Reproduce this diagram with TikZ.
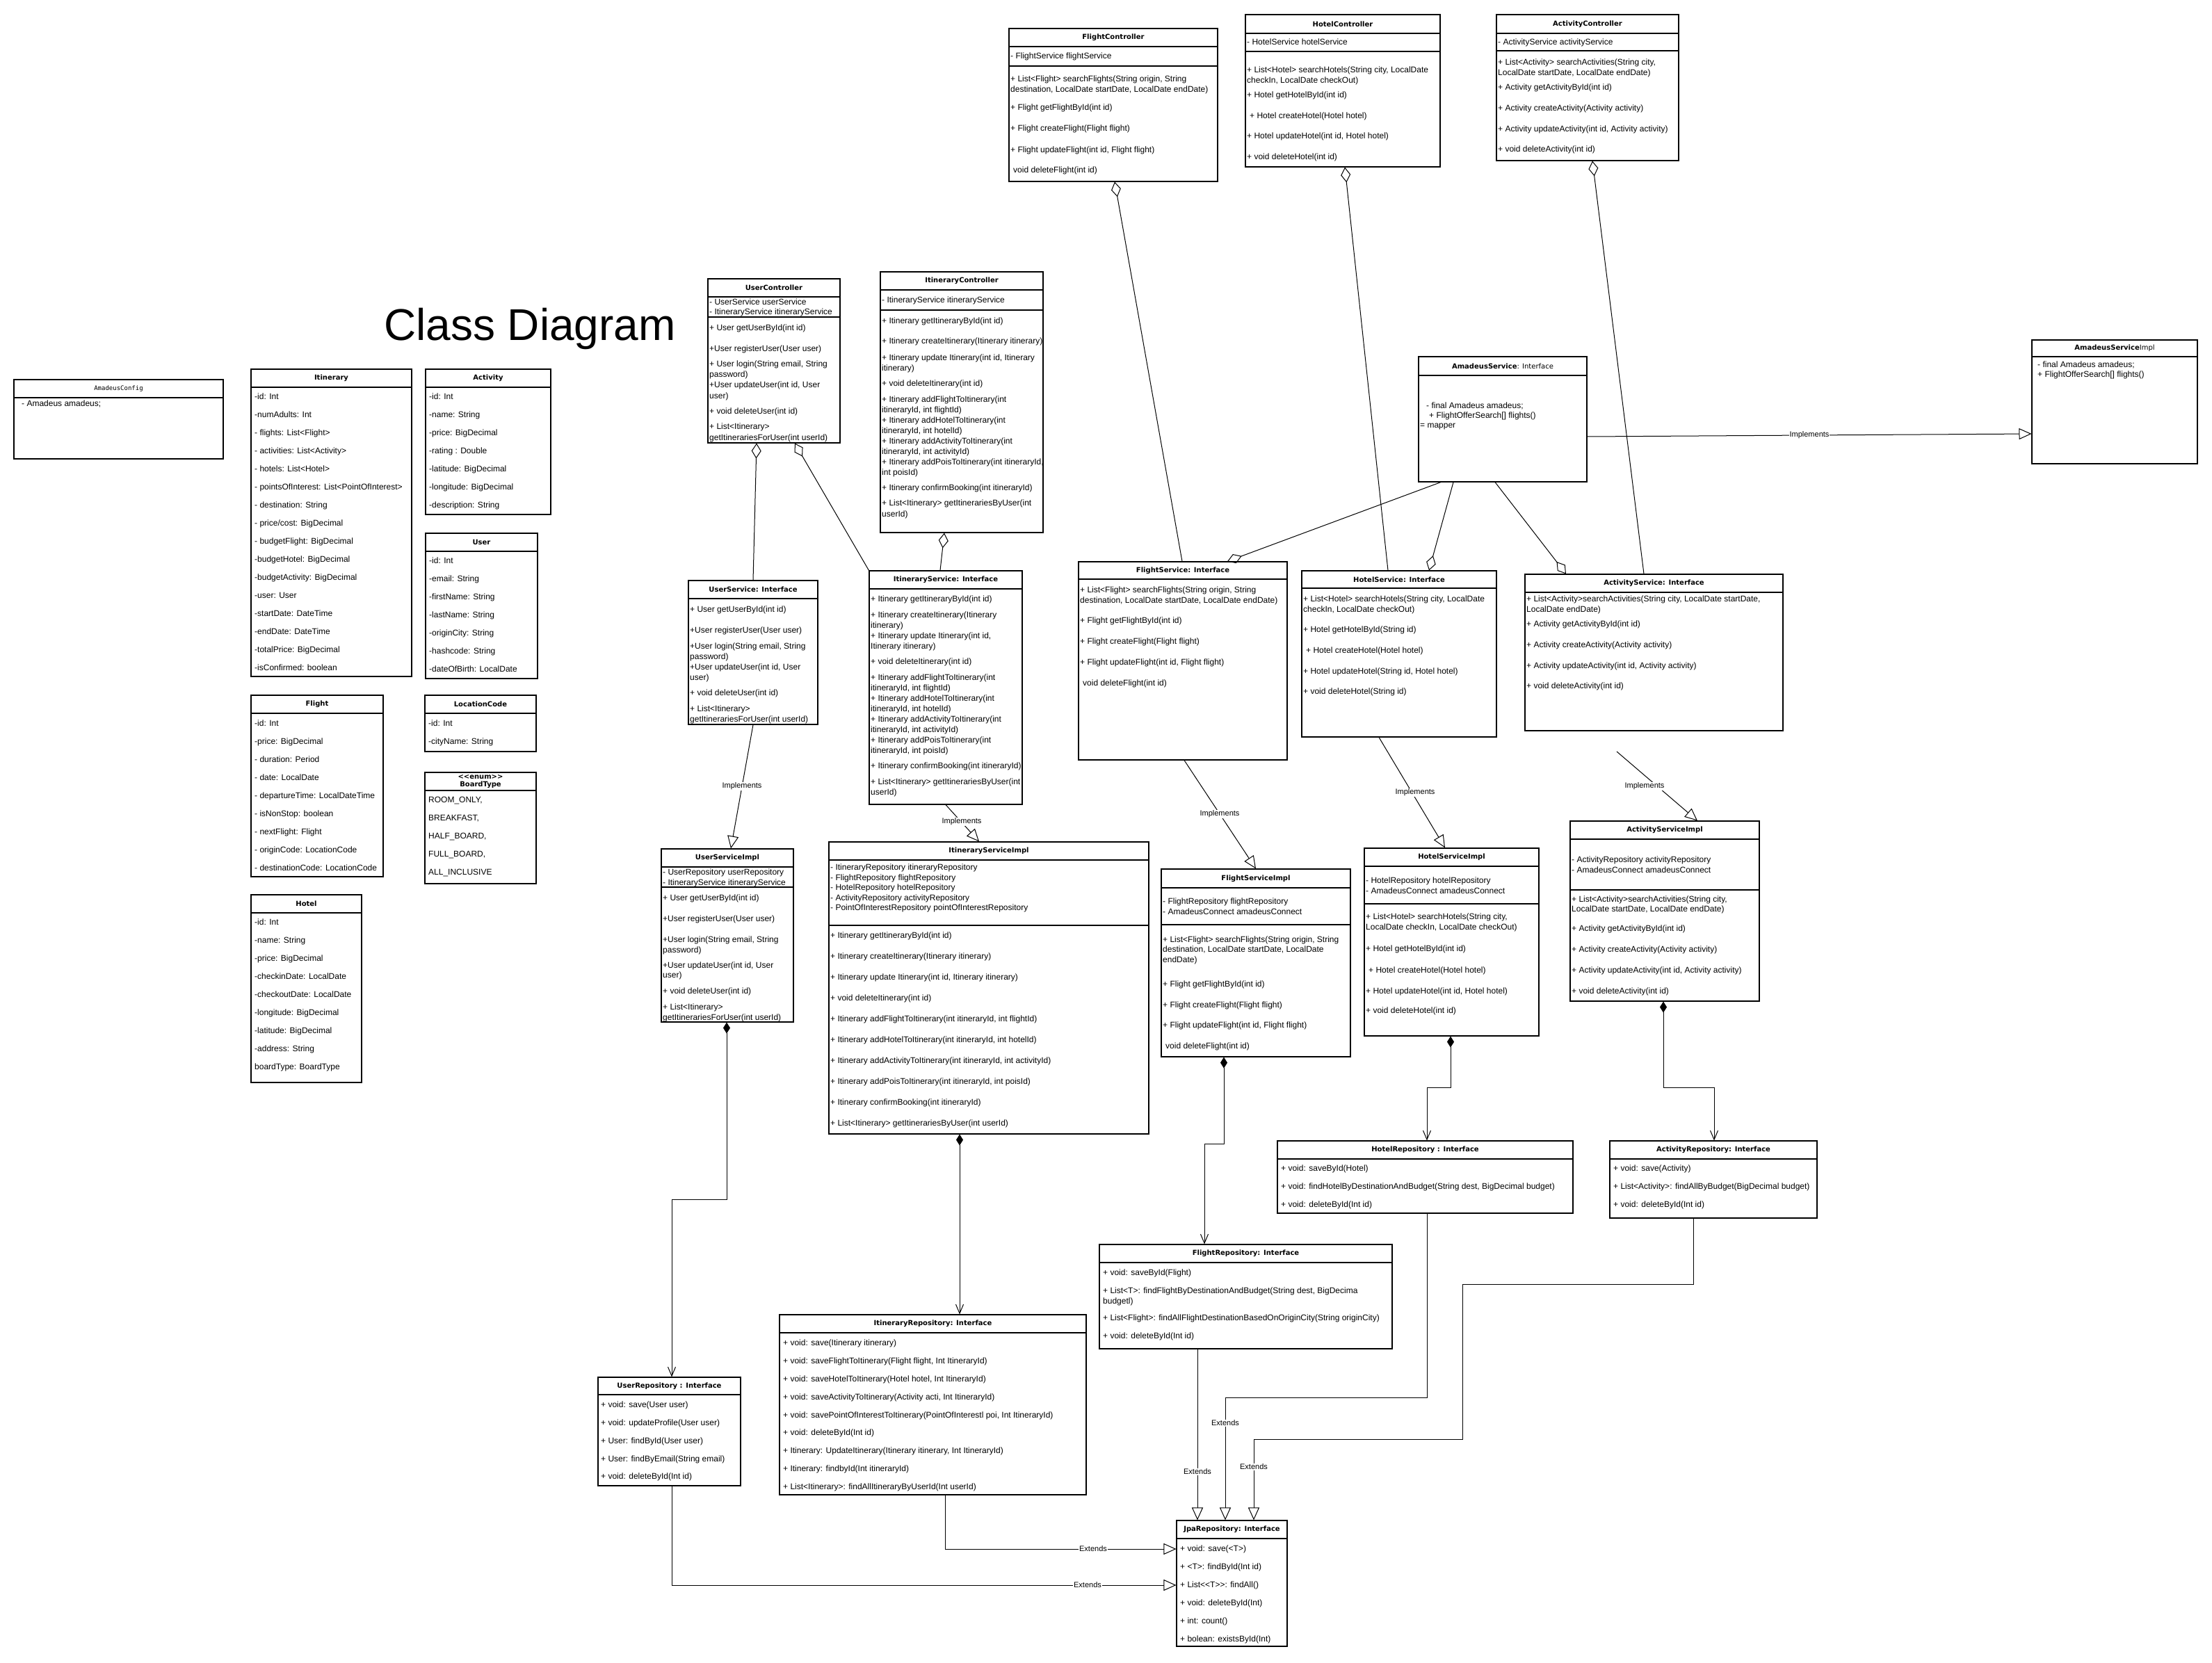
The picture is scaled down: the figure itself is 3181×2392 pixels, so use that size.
\documentclass[tikz,border=0pt]{standalone}
\usepackage{fontspec}
\setmainfont{Liberation Sans}
\newfontfamily\hdrfont{DejaVu Sans}
\newfontfamily\cfgfont{DejaVu Sans Mono}
\usetikzlibrary{arrows.meta,fit}
\newcount\txc
\newcommand\tx[3]{\global\advance\txc by 1\relax\node[txt] (tx\the\txc) at (#1,#2+4) {#3};}
\newcommand\umlcls[7]{\node[box, fit={(#2,#3) (#4,#5)}] (#1) {};\draw[box] (#2,#6) -- (#4,#6);\node[hdr] (#1h) at ({(#2+#4)/2},{(#3+#6)/2}) {#7};}
\newcommand\umlsep[3]{\draw[box] (#1,#3) -- (#2,#3);}
\tikzset{
  txt/.style={anchor=base west, inner sep=0pt, font=\fontsize{12}{14}\selectfont},
  hdr/.style={inner sep=0pt, align=center, font=\hdrfont\bfseries\fontsize{10}{11}\selectfont},
  box/.style={draw=black, line width=1.1pt, inner sep=0pt},
  conn/.style={draw=black, line width=1pt},
  lbl/.style={fill=white, inner sep=1pt, font=\fontsize{11}{13}\selectfont},
  agg/.style={{Diamond[open,length=22pt,width=14pt]}-},
  aggend/.style={-{Diamond[open,length=22pt,width=14pt]}},
  impl/.style={-{Triangle[open,length=18pt,width=16pt]}},
  compo/.style={{Diamond[length=16pt,width=10pt]}-{Straight Barb[length=13pt,width=11pt]}},
}
\begin{document}
\begin{tikzpicture}[x=1pt,y=-1pt]
\fill[white] (0,0) rectangle (3181,2392);
\useasboundingbox (0,0) rectangle (3181,2392);

% ---------- title
\node[font=\fontsize{64}{70}\selectfont, anchor=base west, inner sep=0pt] (title) at (552,489) {Class Diagram};

% ---------- entities
\umlcls{amcfg}{20}{546}{321}{660}{572}{\cfgfont\mdseries\fontsize{9}{11}\selectfont AmadeusConfig}
\tx{31}{580}{- Amadeus amadeus;}

\umlcls{itin}{361}{531}{592}{973}{557}{Itinerary}
\tx{366}{570}{-id: Int}
\tx{366}{596}{-numAdults: Int}
\tx{366}{622}{- flights: List<Flight>}
\tx{366}{648}{- activities: List<Activity>}
\tx{366}{674}{- hotels: List<Hotel>}
\tx{366}{700}{- pointsOfInterest: List<PointOfInterest>}
\tx{366}{726}{- destination: String}
\tx{366}{752}{- price/cost: BigDecimal}
\tx{366}{778}{- budgetFlight: BigDecimal}
\tx{366}{804}{-budgetHotel: BigDecimal}
\tx{366}{830}{-budgetActivity: BigDecimal}
\tx{366}{856}{-user: User}
\tx{366}{882}{-startDate: DateTime}
\tx{366}{908}{-endDate: DateTime}
\tx{366}{934}{-totalPrice: BigDecimal}
\tx{366}{960}{-isConfirmed: boolean}

\umlcls{act}{612}{531}{792}{740}{557}{Activity}
\tx{617}{570}{-id: Int}
\tx{617}{596}{-name: String}
\tx{617}{622}{-price: BigDecimal}
\tx{617}{648}{-rating : Double}
\tx{617}{674}{-latitude: BigDecimal}
\tx{617}{700}{-longitude: BigDecimal}
\tx{617}{726}{-description: String}

\umlcls{usr}{612}{767}{773}{976}{793}{User}
\tx{617}{806}{-id: Int}
\tx{617}{832}{-email: String}
\tx{617}{858}{-firstName: String}
\tx{617}{884}{-lastName: String}
\tx{617}{910}{-originCity: String}
\tx{617}{936}{-hashcode: String}
\tx{617}{962}{-dateOfBirth: LocalDate}

\umlcls{flt}{361}{1000}{551}{1261}{1026}{Flight}
\tx{366}{1040}{-id: Int}
\tx{366}{1066}{-price: BigDecimal}
\tx{366}{1092}{- duration: Period}
\tx{366}{1118}{- date: LocalDate}
\tx{366}{1144}{- departureTime: LocalDateTime}
\tx{366}{1170}{- isNonStop: boolean}
\tx{366}{1196}{- nextFlight: Flight}
\tx{366}{1222}{- originCode: LocationCode}
\tx{366}{1248}{- destinationCode: LocationCode}

\umlcls{loc}{611}{1000}{771}{1081}{1026}{LocationCode}
\tx{616}{1040}{-id: Int}
\tx{616}{1066}{-cityName: String}

\umlcls{brd}{611}{1111}{771}{1271}{1137}{<{}<enum>{}>\\BoardType}
\tx{616}{1150}{ROOM\_ONLY,}
\tx{616}{1176}{BREAKFAST,}
\tx{616}{1202}{HALF\_BOARD,}
\tx{616}{1228}{FULL\_BOARD,}
\tx{616}{1254}{ALL\_INCLUSIVE}

\umlcls{htl}{361}{1287}{520}{1557}{1313}{Hotel}
\tx{366}{1326}{-id: Int}
\tx{366}{1352}{-name: String}
\tx{366}{1378}{-price: BigDecimal}
\tx{366}{1404}{-checkinDate: LocalDate}
\tx{366}{1430}{-checkoutDate: LocalDate}
\tx{366}{1456}{-longitude: BigDecimal}
\tx{366}{1482}{-latitude: BigDecimal}
\tx{366}{1508}{-address: String}
\tx{366}{1534}{boardType: BoardType}

% ---------- controllers
\umlcls{ucon}{1018}{401}{1208}{637}{427}{UserController}
\umlsep{1018}{1208}{456}
\tx{1020}{434}{- UserService userService}
\tx{1020}{448}{- ItineraryService itineraryService}
\tx{1020}{471}{+ User getUserById(int id)}
\tx{1020}{501}{+User registerUser(User user)}
\tx{1020}{523}{+ User login(String email, String}
\tx{1020}{538}{password)}
\tx{1020}{553}{+User updateUser(int id, User}
\tx{1020}{569}{user)}
\tx{1020}{591}{+ void deleteUser(int id)}
\tx{1020}{613}{+ List<Itinerary>}
\tx{1020}{629}{getItinerariesForUser(int userId)}

\umlcls{icon}{1266}{391}{1500}{766}{417}{ItineraryController}
\umlsep{1266}{1500}{446}
\tx{1268}{431}{- ItineraryService itineraryService}
\tx{1268}{461}{+ Itinerary getItineraryById(int id)}
\tx{1268}{490}{+ Itinerary createItinerary(Itinerary itinerary)}
\tx{1268}{514}{+ Itinerary update Itinerary(int id, Itinerary}
\tx{1268}{529}{itinerary)}
\tx{1268}{551}{+ void deleteItinerary(int id)}
\tx{1268}{574}{+ Itinerary addFlightToItinerary(int}
\tx{1268}{589}{itineraryId, int flightId)}
\tx{1268}{604}{+ Itinerary addHotelToItinerary(int}
\tx{1268}{619}{itineraryId, int hotelId)}
\tx{1268}{634}{+ Itinerary addActivityToItinerary(int}
\tx{1268}{649}{itineraryId, int activityId)}
\tx{1268}{664}{+ Itinerary addPoisToItinerary(int itineraryId,}
\tx{1268}{679}{int poisId)}
\tx{1268}{701}{+ Itinerary confirmBooking(int itineraryId)}
\tx{1268}{723}{+ List<Itinerary> getItinerariesByUser(int}
\tx{1268}{739}{userId)}

\umlcls{fcon}{1451}{41}{1751}{261}{67}{FlightController}
\umlsep{1451}{1751}{95}
\tx{1453}{81}{- FlightService flightService}
\tx{1453}{114}{+ List<Flight> searchFlights(String origin, String}
\tx{1453}{129}{destination, LocalDate startDate, LocalDate endDate)}
\tx{1453}{155}{+ Flight getFlightById(int id)}
\tx{1453}{185}{+ Flight createFlight(Flight flight)}
\tx{1453}{216}{+ Flight updateFlight(int id, Flight flight)}
\tx{1457}{245}{void deleteFlight(int id)}

\umlcls{hcon}{1791}{21}{2071}{240}{48}{HotelController}
\umlsep{1791}{2071}{74}
\tx{1793}{61}{- HotelService hotelService}
\tx{1793}{101}{+ List<Hotel> searchHotels(String city, LocalDate}
\tx{1793}{116}{checkIn, LocalDate checkOut)}
\tx{1793}{137}{+ Hotel getHotelById(int id)}
\tx{1797}{167}{+ Hotel createHotel(Hotel hotel)}
\tx{1793}{196}{+ Hotel updateHotel(int id, Hotel hotel)}
\tx{1793}{226}{+ void deleteHotel(int id)}

\umlcls{acon}{2152}{21}{2414}{231}{48}{ActivityController}
\umlsep{2152}{2414}{73}
\tx{2154}{61}{- ActivityService activityService}
\tx{2154}{90}{+ List<Activity> searchActivities(String city,}
\tx{2154}{105}{LocalDate startDate, LocalDate endDate)}
\tx{2154}{126}{+ Activity getActivityById(int id)}
\tx{2154}{156}{+ Activity createActivity(Activity activity)}
\tx{2154}{186}{+ Activity updateActivity(int id, Activity activity)}
\tx{2154}{215}{+ void deleteActivity(int id)}

% ---------- amadeus
\umlcls{asvc}{2040}{513}{2282}{693}{540}{AmadeusService{\mdseries: Interface}}
\tx{2051}{583}{- final Amadeus amadeus;}
\tx{2055}{597}{+ FlightOfferSearch[] flights()}
\tx{2042}{611}{= mapper}

\umlcls{aimp}{2922}{489}{3160}{667}{513}{AmadeusService{\mdseries Impl}}
\tx{2930}{524}{- final Amadeus amadeus;}
\tx{2930}{538}{+ FlightOfferSearch[] flights()}

% ---------- services
\umlcls{usvc}{990}{835}{1176}{1042}{861}{UserService: Interface}
\tx{992}{876}{+ User getUserById(int id)}
\tx{992}{906}{+User registerUser(User user)}
\tx{992}{929}{+User login(String email, String}
\tx{992}{944}{password)}
\tx{992}{959}{+User updateUser(int id, User}
\tx{992}{974}{user)}
\tx{992}{996}{+ void deleteUser(int id)}
\tx{992}{1019}{+ List<Itinerary>}
\tx{992}{1034}{getItinerariesForUser(int userId)}

\umlcls{isvc}{1250}{821}{1470}{1157}{847}{ItineraryService: Interface}
\tx{1252}{861}{+ Itinerary getItineraryById(int id)}
\tx{1252}{884}{+ Itinerary createItinerary(Itinerary}
\tx{1252}{899}{itinerary)}
\tx{1252}{914}{+ Itinerary update Itinerary(int id,}
\tx{1252}{929}{Itinerary itinerary)}
\tx{1252}{951}{+ void deleteItinerary(int id)}
\tx{1252}{974}{+ Itinerary addFlightToItinerary(int}
\tx{1252}{989}{itineraryId, int flightId)}
\tx{1252}{1004}{+ Itinerary addHotelToItinerary(int}
\tx{1252}{1019}{itineraryId, int hotelId)}
\tx{1252}{1034}{+ Itinerary addActivityToItinerary(int}
\tx{1252}{1049}{itineraryId, int activityId)}
\tx{1252}{1064}{+ Itinerary addPoisToItinerary(int}
\tx{1252}{1079}{itineraryId, int poisId)}
\tx{1252}{1101}{+ Itinerary confirmBooking(int itineraryId)}
\tx{1252}{1124}{+ List<Itinerary> getItinerariesByUser(int}
\tx{1252}{1139}{userId)}

\umlcls{fsvc}{1551}{808}{1851}{1093}{833}{FlightService: Interface}
\tx{1553}{848}{+ List<Flight> searchFlights(String origin, String}
\tx{1553}{863}{destination, LocalDate startDate, LocalDate endDate)}
\tx{1553}{892}{+ Flight getFlightById(int id)}
\tx{1553}{922}{+ Flight createFlight(Flight flight)}
\tx{1553}{952}{+ Flight updateFlight(int id, Flight flight)}
\tx{1557}{982}{void deleteFlight(int id)}

\umlcls{hsvc}{1872}{821}{2152}{1060}{846}{HotelService: Interface}
\tx{1874}{861}{+ List<Hotel> searchHotels(String city, LocalDate}
\tx{1874}{876}{checkIn, LocalDate checkOut)}
\tx{1874}{905}{+ Hotel getHotelById(String id)}
\tx{1878}{935}{+ Hotel createHotel(Hotel hotel)}
\tx{1874}{965}{+ Hotel updateHotel(String id, Hotel hotel)}
\tx{1874}{994}{+ void deleteHotel(String id)}

\umlcls{actsvc}{2193}{826}{2564}{1051}{852}{ActivityService: Interface}
\tx{2195}{861}{+ List<Activity>searchActivities(String city, LocalDate startDate,}
\tx{2195}{876}{LocalDate endDate)}
\tx{2195}{897}{+ Activity getActivityById(int id)}
\tx{2195}{927}{+ Activity createActivity(Activity activity)}
\tx{2195}{957}{+ Activity updateActivity(int id, Activity activity)}
\tx{2195}{986}{+ void deleteActivity(int id)}

% ---------- service implementations
\umlcls{usimp}{951}{1221}{1141}{1470}{1247}{UserServiceImpl}
\umlsep{951}{1141}{1276}
\tx{953}{1254}{- UserRepository userRepository}
\tx{953}{1269}{- ItineraryService itineraryService}
\tx{953}{1291}{+ User getUserById(int id)}
\tx{953}{1321}{+User registerUser(User user)}
\tx{953}{1351}{+User login(String email, String}
\tx{953}{1366}{password)}
\tx{953}{1388}{+User updateUser(int id, User}
\tx{953}{1402}{user)}
\tx{953}{1425}{+ void deleteUser(int id)}
\tx{953}{1448}{+ List<Itinerary>}
\tx{953}{1463}{getItinerariesForUser(int userId)}

\umlcls{isimp}{1192}{1211}{1652}{1631}{1237}{ItineraryServiceImpl}
\umlsep{1192}{1652}{1331}
\tx{1194}{1247}{- ItineraryRepository itineraryRepository}
\tx{1194}{1262}{- FlightRepository flightRepository}
\tx{1194}{1276}{- HotelRepository hotelRepository}
\tx{1194}{1291}{- ActivityRepository activityRepository}
\tx{1194}{1305}{- PointOfInterestRepository pointOfInterestRepository}
\tx{1194}{1345}{+ Itinerary getItineraryById(int id)}
\tx{1194}{1375}{+ Itinerary createItinerary(Itinerary itinerary)}
\tx{1194}{1405}{+ Itinerary update Itinerary(int id, Itinerary itinerary)}
\tx{1194}{1435}{+ void deleteItinerary(int id)}
\tx{1194}{1465}{+ Itinerary addFlightToItinerary(int itineraryId, int flightId)}
\tx{1194}{1495}{+ Itinerary addHotelToItinerary(int itineraryId, int hotelId)}
\tx{1194}{1525}{+ Itinerary addActivityToItinerary(int itineraryId, int activityId)}
\tx{1194}{1555}{+ Itinerary addPoisToItinerary(int itineraryId, int poisId)}
\tx{1194}{1585}{+ Itinerary confirmBooking(int itineraryId)}
\tx{1194}{1615}{+ List<Itinerary> getItinerariesByUser(int userId)}

\umlcls{fsimp}{1670}{1250}{1942}{1520}{1277}{FlightServiceImpl}
\umlsep{1670}{1942}{1330}
\tx{1672}{1296}{- FlightRepository flightRepository}
\tx{1672}{1311}{- AmadeusConnect amadeusConnect}
\tx{1672}{1351}{+ List<Flight> searchFlights(String origin, String}
\tx{1672}{1365}{destination, LocalDate startDate, LocalDate}
\tx{1672}{1380}{endDate)}
\tx{1672}{1415}{+ Flight getFlightById(int id)}
\tx{1672}{1445}{+ Flight createFlight(Flight flight)}
\tx{1672}{1474}{+ Flight updateFlight(int id, Flight flight)}
\tx{1676}{1504}{void deleteFlight(int id)}

\umlcls{hsimp}{1962}{1220}{2213}{1490}{1246}{HotelServiceImpl}
\umlsep{1962}{2213}{1300}
\tx{1964}{1266}{- HotelRepository hotelRepository}
\tx{1964}{1281}{- AmadeusConnect amadeusConnect}
\tx{1964}{1318}{+ List<Hotel> searchHotels(String city,}
\tx{1964}{1333}{LocalDate checkIn, LocalDate checkOut)}
\tx{1964}{1364}{+ Hotel getHotelById(int id)}
\tx{1968}{1395}{+ Hotel createHotel(Hotel hotel)}
\tx{1964}{1425}{+ Hotel updateHotel(int id, Hotel hotel)}
\tx{1964}{1453}{+ void deleteHotel(int id)}

\umlcls{actimp}{2258}{1181}{2530}{1440}{1207}{ActivityServiceImpl}
\umlsep{2258}{2530}{1280}
\tx{2260}{1236}{- ActivityRepository activityRepository}
\tx{2260}{1251}{- AmadeusConnect amadeusConnect}
\tx{2260}{1293}{+ List<Activity>searchActivities(String city,}
\tx{2260}{1307}{LocalDate startDate, LocalDate endDate)}
\tx{2260}{1335}{+ Activity getActivityById(int id)}
\tx{2260}{1365}{+ Activity createActivity(Activity activity)}
\tx{2260}{1395}{+ Activity updateActivity(int id, Activity activity)}
\tx{2260}{1425}{+ void deleteActivity(int id)}

% ---------- repositories
\umlcls{hrep}{1837}{1641}{2262}{1745}{1667}{HotelRepository : Interface}
\tx{1842}{1680}{+ void: saveById(Hotel)}
\tx{1842}{1706}{+ void: findHotelByDestinationAndBudget(String dest, BigDecimal budget)}
\tx{1842}{1732}{+ void: deleteById(Int id)}

\umlcls{arep}{2315}{1641}{2613}{1752}{1667}{ActivityRepository: Interface}
\tx{2320}{1680}{+ void: save(Activity)}
\tx{2320}{1706}{+ List<Activity>: findAllByBudget(BigDecimal budget)}
\tx{2320}{1732}{+ void: deleteById(Int id)}

\umlcls{frep}{1581}{1790}{2002}{1940}{1816}{FlightRepository: Interface}
\tx{1586}{1830}{+ void: saveById(Flight)}
\tx{1586}{1856}{+ List<T>: findFlightByDestinationAndBudget(String dest, BigDecima}
\tx{1586}{1871}{budgetl)}
\tx{1586}{1895}{+ List<Flight>: findAllFlightDestinationBasedOnOriginCity(String originCity)}
\tx{1586}{1921}{+ void: deleteById(Int id)}

\umlcls{urep}{860}{1981}{1065}{2137}{2006}{UserRepository : Interface}
\tx{864}{2020}{+ void: save(User user)}
\tx{864}{2046}{+ void: updateProfile(User user)}
\tx{864}{2072}{+ User: findById(User user)}
\tx{864}{2098}{+ User: findByEmail(String email)}
\tx{864}{2123}{+ void: deleteById(Int id)}

\umlcls{irep}{1121}{1891}{1562}{2150}{1917}{ItineraryRepository: Interface}
\tx{1126}{1931}{+ void: save(Itinerary itinerary)}
\tx{1126}{1957}{+ void: saveFlightToItinerary(Flight flight, Int ItineraryId)}
\tx{1126}{1983}{+ void: saveHotelToItinerary(Hotel hotel, Int ItineraryId)}
\tx{1126}{2009}{+ void: saveActivityToItinerary(Activity acti, Int ItineraryId)}
\tx{1126}{2035}{+ void: savePointOfInterestToItinerary(PointOfInterestl poi, Int ItineraryId)}
\tx{1126}{2060}{+ void: deleteById(Int id)}
\tx{1126}{2086}{+ Itinerary: UpdateItinerary(Itinerary itinerary, Int ItineraryId)}
\tx{1126}{2112}{+ Itinerary: findbyId(Int itineraryId)}
\tx{1126}{2138}{+ List<Itinerary>: findAllItineraryByUserId(Int userId)}

\umlcls{jpa}{1692}{2187}{1851}{2368}{2213}{JpaRepository: Interface}
\tx{1697}{2227}{+ void: save(<T>)}
\tx{1697}{2253}{+ <T>: findById(Int id)}
\tx{1697}{2279}{+ List<{}<T>{}>: findAll()}
\tx{1697}{2305}{+ void: deleteById(Int)}
\tx{1697}{2331}{+ int: count()}
\tx{1697}{2357}{+ bolean: existsById(Int)}

% ---------- aggregations
\draw[conn, agg] (1088,0 |- ucon.south) -- (1083,0 |- usvc.north);
\draw[conn, agg] (1143,0 |- ucon.south) -- (isvc.north west);
\draw[conn, agg] (1358,0 |- icon.south) -- (1352,0 |- isvc.north);
\draw[conn, agg] (1603,0 |- fcon.south) -- (1700,0 |- fsvc.north);
\draw[conn, agg] (1934,0 |- hcon.south) -- (1996,0 |- hsvc.north);
\draw[conn, agg] (2290,0 |- acon.south) -- (2364,0 |- actsvc.north);
\draw[conn, aggend] (2072,0 |- asvc.south) -- (1765,0 |- fsvc.north);
\draw[conn, aggend] (2090,0 |- asvc.south) -- (2055,0 |- hsvc.north);
\draw[conn, aggend] (2150,0 |- asvc.south) -- (2252,0 |- actsvc.north);

% ---------- implements
\draw[conn, impl] (asvc.east |- 0,628) -- (aimp.west |- 0,624);
\draw[conn, impl] (1083,0 |- usvc.south) -- (1051,0 |- usimp.north);
\draw[conn, impl] (1360,0 |- isvc.south) -- (1408,0 |- isimp.north);
\draw[conn, impl] (1703,0 |- fsvc.south) -- (1806,0 |- fsimp.north);
\draw[conn, impl] (1983,0 |- hsvc.south) -- (2078,0 |- hsimp.north);
\coordinate (actgap) at (2325,1081);
\draw[conn, impl] (actgap) -- (2441,0 |- actimp.north);

% ---------- compositions
\draw[conn, compo] (1045,0 |- usimp.south) -- (1045,1725) -- (966,1725) -- (966,0 |- urep.north);
\draw[conn, compo] (1380,0 |- isimp.south) -- (1380,0 |- irep.north);
\draw[conn, compo] (1760,0 |- fsimp.south) -- (1760,1645) -- (1732,1645) -- (1732,0 |- frep.north);
\draw[conn, compo] (2086,0 |- hsimp.south) -- (2086,1564) -- (2052,1564) -- (2052,0 |- hrep.north);
\draw[conn, compo] (2392,0 |- actimp.south) -- (2392,1564) -- (2465,1564) -- (2465,0 |- arep.north);

% ---------- extends
\draw[conn, impl] (1722,0 |- frep.south) -- (1722,0 |- jpa.north);
\draw[conn, impl] (2052,0 |- hrep.south) -- (2052,2010) -- (1762,2010) -- (1762,0 |- jpa.north);
\draw[conn, impl] (2435,0 |- arep.south) -- (2435,1847) -- (2103,1847) -- (2103,2070) -- (1803,2070) -- (1803,0 |- jpa.north);
\draw[conn, impl] (1359,0 |- irep.south) -- (1359,2228) -- (jpa.west |- 0,2228);
\draw[conn, impl] (966,0 |- urep.south) -- (966,2280) -- (jpa.west |- 0,2280);

% ---------- labels
\node[lbl] (l1) at (2602,626) {Implements};
\node[lbl] (l2) at (1067,1131) {Implements};
\node[lbl] (l3) at (1383,1182) {Implements};
\node[lbl] (l4) at (1754,1171) {Implements};
\node[lbl] (l5) at (2035,1140) {Implements};
\node[lbl] (l6) at (2365,1131) {Implements};
\node[lbl] (l7) at (1722,2117) {Extends};
\node[lbl] (l8) at (1762,2047) {Extends};
\node[lbl] (l9) at (1803,2110) {Extends};
\node[lbl] (l10) at (1572,2228) {Extends};
\node[lbl] (l11) at (1564,2280) {Extends};
\end{tikzpicture}
\end{document}
